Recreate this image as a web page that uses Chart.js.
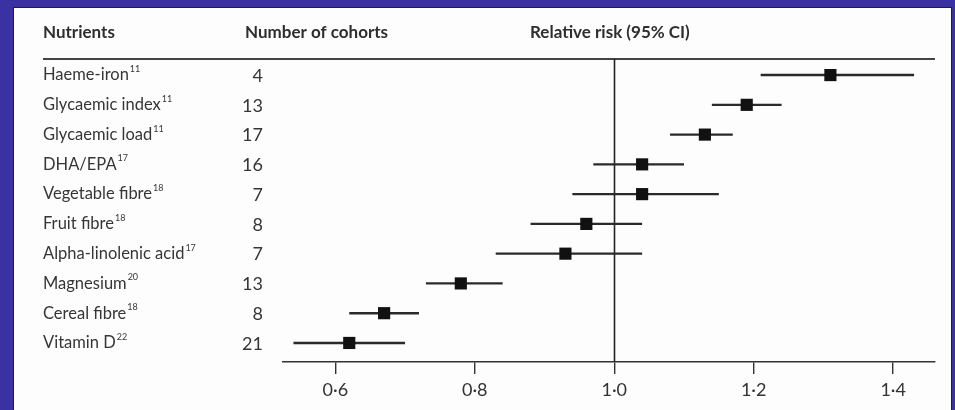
<!DOCTYPE html>
<html>
<head>
<meta charset="utf-8">
<script src="https://cdn.jsdelivr.net/npm/chart.js@4/dist/chart.umd.min.js"></script>
<style>
  html, body { margin: 0; padding: 0; }
  body { width: 955px; height: 410px; background: #3a31a3; position: relative; overflow: hidden; }
  #panel { position: absolute; left: 13px; top: 7px; width: 937px; height: 420px; background: #fdfdfd; border: 1px solid #1c1a48; }
  #wrap { position: absolute; left: 0; top: 0; width: 955px; height: 410px; }
</style>
</head>
<body>
<div id="panel"></div>
<div id="wrap"><canvas id="c" width="955" height="410"></canvas></div>
<script>
// Nutrient rows, top to bottom
const nutrients = ['Haeme-iron', 'Glycaemic index', 'Glycaemic load', 'DHA/EPA', 'Vegetable fibre',
  'Fruit fibre', 'Alpha-linolenic acid', 'Magnesium', 'Cereal fibre', 'Vitamin D'];
const refs = ['11', '11', '11', '17', '18', '18', '17', '20', '18', '22'];
const cohorts = [4, 13, 17, 16, 7, 8, 7, 13, 8, 21];
// Relative risk with 95% CI
const rr = [1.31, 1.19, 1.13, 1.04, 1.04, 0.96, 0.93, 0.78, 0.67, 0.62];
const ciLow = [1.21, 1.14, 1.08, 0.97, 0.94, 0.88, 0.83, 0.73, 0.62, 0.54];
const ciHigh = [1.43, 1.24, 1.17, 1.10, 1.15, 1.04, 1.04, 0.84, 0.72, 0.70];
const xTicks = [0.6, 0.8, 1.0, 1.2, 1.4];

const FONT = 'Lato, "Liberation Sans", sans-serif';
const TEXT = '#363636';

const forestPlugin = {
  id: 'forest',
  beforeDatasetsDraw(chart) {
    const { ctx, chartArea, scales: { x, y } } = chart;
    ctx.save();
    // header rule
    ctx.strokeStyle = '#444';
    ctx.lineWidth = 2;
    ctx.beginPath();
    ctx.moveTo(43, chartArea.top);
    ctx.lineTo(chartArea.right, chartArea.top);
    ctx.stroke();
    // line of no effect
    const x1 = Math.round(x.getPixelForValue(1)) + 0.5;
    ctx.strokeStyle = '#222';
    ctx.lineWidth = 1.6;
    ctx.beginPath();
    ctx.moveTo(x1, chartArea.top);
    ctx.lineTo(x1, chartArea.bottom);
    ctx.stroke();
    // confidence intervals
    ctx.strokeStyle = '#2a2a2a';
    ctx.lineWidth = 2.4;
    rr.forEach((v, i) => {
      const py = y.getPixelForValue(i);
      ctx.beginPath();
      ctx.moveTo(x.getPixelForValue(ciLow[i]), py);
      ctx.lineTo(x.getPixelForValue(ciHigh[i]), py);
      ctx.stroke();
    });
    // headers
    ctx.fillStyle = '#2e2e2e';
    ctx.textBaseline = 'middle';
    ctx.textAlign = 'left';
    ctx.font = 'bold 17px ' + FONT;
    ctx.fillText('Nutrients', 43, 33);
    ctx.fillText('Number of cohorts', 245, 33);
    ctx.fillText('Relative risk (95% CI)', 530, 33);
    // row labels
    nutrients.forEach((name, i) => {
      const py = y.getPixelForValue(i);
      ctx.fillStyle = TEXT;
      ctx.textAlign = 'left';
      ctx.font = '16.5px ' + FONT;
      ctx.fillText(name, 43, py);
      const w = ctx.measureText(name).width;
      ctx.font = '9px ' + FONT;
      ctx.fillText(refs[i], 43 + w + 1, py - 6);
      ctx.font = '18px ' + FONT;
      ctx.textAlign = 'right';
      ctx.fillText(String(cohorts[i]), 263, py + 1);
    });
    ctx.restore();
  }
};

new Chart(document.getElementById('c'), {
  type: 'scatter',
  data: {
    datasets: [{
      data: rr.map((v, i) => ({ x: v, y: i })),
      pointStyle: 'rect',
      pointRadius: 8.6,
      pointHoverRadius: 8.6,
      backgroundColor: '#111',
      borderWidth: 0
    }]
  },
  options: {
    responsive: false,
    animation: false,
    events: [],
    layout: { padding: { left: 283, right: 20, top: 59, bottom: 8 } },
    plugins: { legend: { display: false }, tooltip: { enabled: false } },
    scales: {
      x: {
        type: 'linear',
        min: 0.525,
        max: 1.46,
        afterBuildTicks: (s) => { s.ticks = xTicks.map(v => ({ value: v })); },
        afterFit: (s) => { s.height = 40; },
        border: { display: true, color: '#333', width: 1.6 },
        grid: { display: true, drawOnChartArea: false, drawTicks: true, tickLength: 12, color: '#333', lineWidth: 1.4 },
        ticks: {
          padding: 5,
          color: '#333',
          font: { family: FONT, size: 18 },
          maxRotation: 0,
          callback: (v) => v.toFixed(1).replace('.', '·')
        }
      },
      y: {
        type: 'linear',
        display: false,
        reverse: true,
        min: -0.54,
        max: 9.64
      }
    }
  },
  plugins: [forestPlugin]
});
</script>
</body>
</html>
